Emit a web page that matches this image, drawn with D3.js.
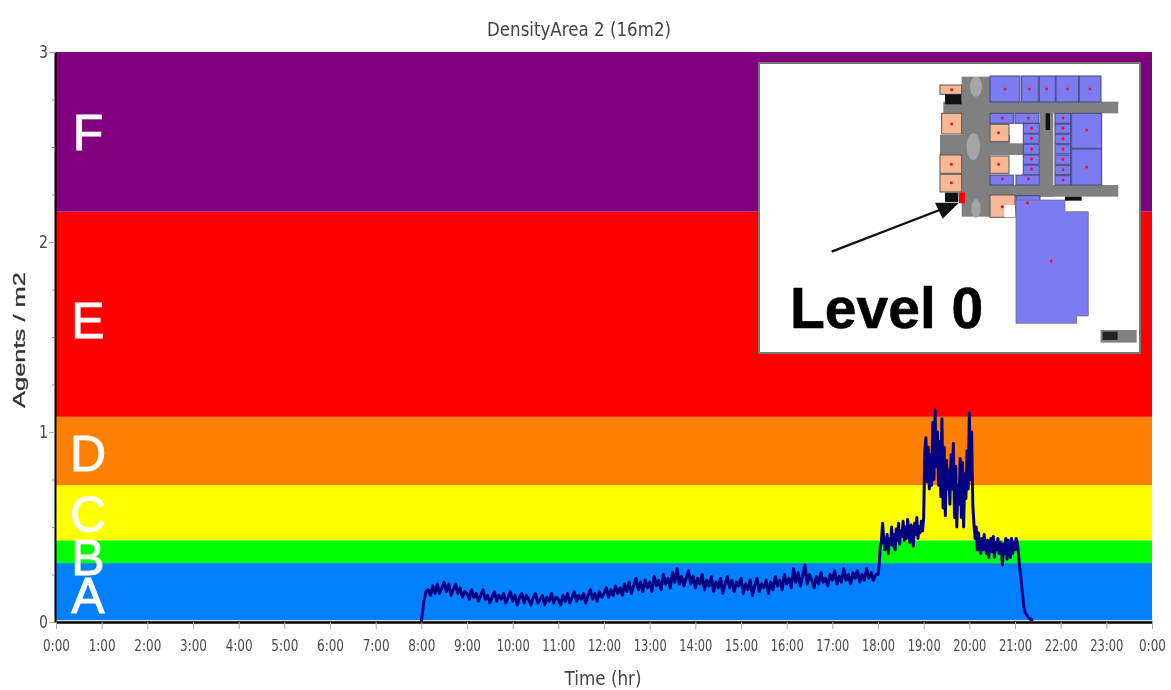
<!DOCTYPE html>
<html><head><meta charset="utf-8">
<script src="https://cdn.jsdelivr.net/npm/d3@7"></script>
<style>
html,body{margin:0;padding:0;background:#fff}
svg{display:block;filter:blur(.55px)}
text{font-family:"DejaVu Sans",sans-serif}
</style></head><body>
<svg id="c" width="1171" height="690"></svg>
<script>
const title = "DensityArea 2 (16m2)";
const xTitle = "Time (hr)";
const yTitle = "Agents / m2";
const hourLabels = ["0:00","1:00","2:00","3:00","4:00","5:00","6:00","7:00","8:00","9:00","10:00","11:00","12:00","13:00","14:00","15:00","16:00","17:00","18:00","19:00","20:00","21:00","22:00","23:00","0:00"];
const bandNames = ["A","B","C","D","E","F"];
const bandLimits = [0,0.31,0.43,0.72,1.08,2.16,3];
const bandColors = ["#0080ff","#00ff00","#ffff00","#ff8000","#ff0000","#800080"];
const yMajor = [0,1,2,3];
const yMinor = [0.25,0.5,0.75,1.25,1.5,1.75,2.25,2.5,2.75];
const dayStart = 8, dayStep = 0.05;
const densityDay = [
0,.10,.16,.17,.14,.19,.15,.20,.15,.18,.21,.16,.20,.14,.17,.20,.15,.18,.13,.16,
.15,.12,.17,.13,.15,.11,.14,.17,.12,.14,.10,.13,.16,.11,.14,.12,.15,.10,.13,.16,
.11,.14,.09,.13,.15,.10,.14,.12,.09,.13,.15,.10,.12,.14,.09,.13,.11,.15,.10,.13,
.12,.09,.14,.11,.15,.10,.13,.16,.11,.14,.12,.15,.10,.14,.17,.12,.15,.11,.16,.13,
.15,.18,.13,.17,.14,.19,.15,.18,.14,.20,.16,.21,.15,.19,.23,.17,.21,.16,.22,.18,
.21,.16,.24,.19,.22,.17,.25,.20,.23,.18,.26,.21,.28,.20,.24,.19,.23,.27,.20,.24,
.18,.23,.20,.25,.17,.22,.19,.24,.16,.21,.18,.23,.15,.20,.24,.18,.22,.16,.21,.19,
.23,.15,.20,.17,.22,.14,.19,.23,.16,.20,.18,.22,.15,.21,.17,.24,.19,.22,.17,.25,
.20,.23,.18,.28,.21,.26,.19,.24,.30,.20,.25,.22,.18,.24,.20,.26,.21,.23,.19,.25,
.22,.27,.20,.24,.21,.28,.22,.25,.20,.26,.23,.27,.21,.25,.22,.28,.23,.26,.22,.25
];
const eveningStart = 18, eveningStep = 0.025;
const densityEvening = [
.25,.30,.40,.42,.52,.44,.38,.42,.46,.36,.44,.41,.50,.40,.46,.38,.49,.43,.52,.41,.48,.45,.53,.43,.50,.44,.54,.46,.42,.51,.47,.40,.52,.46,.55,.44,.50,.47,.53,.48,
.55,.90,.97,.74,.92,.70,.88,.72,1.05,.75,1.115,.82,1.00,.72,.95,.66,1.07,.60,.92,.56,.85,.70,.80,.62,.88,.70,.94,.55,.82,.50,.72,.62,.86,.55,.84,.50,.78,.65,.90,.70,1.10,.75,1.0,.62,
.52,.44,.50,.38,.47,.40,.36,.44,.38,.46,.40,.36,.43,.34,.41,.44,.37,.45,.34,.42,.38,.44,.36,.42,.40,.30,.41,.36,.44,.33,.43,.38,.34,.44,.36,.42,.38,.44,
.42,.36,.29,.24,.18,.12,.07,.05,.04,.03,.02,.02,.01,.01,.01
];
const M = {l:56, r:1152, t:52, b:622};
const svg = d3.select("#c");
const x = d3.scaleLinear().domain([0,24]).range([M.l,M.r]);
const y = d3.scaleLinear().domain([0,3]).range([M.b,M.t]);

// bands
svg.append("g").selectAll("rect").data(bandColors).join("rect")
  .attr("x",x(0)).attr("width",x(24)-x(0))
  .attr("y",(d,i)=>y(bandLimits[i+1]))
  .attr("height",(d,i)=>y(bandLimits[i])-y(bandLimits[i+1]))
  .attr("fill",d=>d);
svg.append("rect").attr("x",x(0)).attr("width",x(24)-x(0)).attr("y",y(0)-2).attr("height",2).attr("fill","#ddd");

// axes
const gx = svg.append("g").attr("transform",`translate(0,${y(0)})`)
  .call(d3.axisBottom(x).tickValues(d3.range(25)).tickFormat(i=>hourLabels[i]).tickSize(7).tickSizeOuter(0).tickPadding(11));
gx.select(".domain").attr("stroke","#000").attr("stroke-width",2.5);
gx.selectAll(".tick line").attr("stroke","#aaa");
gx.selectAll(".tick text").attr("fill","#4a4a4a").style("font-size","15.5px")
  .attr("textLength",(d,i)=>hourLabels[i].length>4?33:27).attr("lengthAdjust","spacingAndGlyphs");
const gy = svg.append("g").attr("transform",`translate(${x(0)-1},0)`)
  .call(d3.axisLeft(y).tickValues(yMajor).tickFormat(d3.format("d")).tickSize(6).tickSizeOuter(0).tickPadding(1));
gy.select(".domain").attr("stroke","#000").attr("stroke-width",2);
gy.selectAll(".tick line").attr("stroke","#aaa");
gy.selectAll(".tick text").attr("fill","#4a4a4a").style("font-size","17px")
  .attr("textLength",9).attr("lengthAdjust","spacingAndGlyphs");
svg.append("g").attr("transform",`translate(${x(0)-1},0)`)
  .call(d3.axisLeft(y).tickValues(yMinor).tickFormat("").tickSize(3))
  .call(g=>g.select(".domain").remove())
  .selectAll(".tick line").attr("stroke","#888");

// titles
svg.append("text").attr("x",579).attr("y",36).attr("text-anchor","middle").attr("fill","#444")
  .style("font-size","19px").attr("textLength",184).attr("lengthAdjust","spacingAndGlyphs").text(title);
svg.append("text").attr("x",603).attr("y",685).attr("text-anchor","middle").attr("fill","#444")
  .style("font-size","19px").attr("textLength",77).attr("lengthAdjust","spacingAndGlyphs").text(xTitle);
svg.append("text").attr("transform","translate(25,340) rotate(-90)").attr("text-anchor","middle").attr("fill","#333")
  .style("font-size","17px").style("font-family","'Liberation Sans'").attr("stroke","#333").attr("stroke-width",.3)
  .attr("textLength",136).attr("lengthAdjust","spacingAndGlyphs").text(yTitle);

// band letters
const letterX = [88,88,88,88,88,88];
const letterBase = [613,575,532,471,338,150];
svg.append("g").selectAll("text").data(bandNames).join("text")
  .attr("x",(d,i)=>letterX[i]).attr("y",(d,i)=>letterBase[i]).attr("text-anchor","middle")
  .attr("fill","#fff").attr("stroke","#fff").attr("stroke-width",1)
  .style("font-family","'Liberation Sans'").style("font-size","50px").text(d=>d);

// density line
const points = densityDay.map((v,i)=>[dayStart+i*dayStep,v])
  .concat(densityEvening.map((v,i)=>[eveningStart+i*eveningStep,v]));
const line = d3.line().x(d=>x(d[0])).y(d=>y(d[1]));
svg.append("path").datum(points).attr("d",line).attr("fill","none").attr("stroke","#000080").attr("stroke-width",3).attr("stroke-linejoin","round");

// inset
svg.append("rect").attr("x",759).attr("y",63).attr("width",381).attr("height",290).attr("fill","#fff").attr("stroke","#777").attr("stroke-width",2);
const plan = svg.append("g").attr("transform","translate(760,60) scale(0.3333)");
const grayRects = [[605,50,85,420],[550,125,525,35],[610,375,465,35],[540,225,210,60],[840,125,40,285],[690,250,100,35]];
const blueRects = [[690,48,90,78],[785,48,50,78],[838,48,48,78],[888,48,68,78],[958,48,65,78],
 [690,160,70,30],[765,160,72,30],[790,190,48,30],[790,222,48,28],[790,253,48,30],[790,285,48,28],[790,315,48,30],[690,345,70,30],[768,345,70,30],
 [885,160,47,30],[885,192,47,28],[885,223,47,28],[885,254,47,28],[885,285,47,28],[885,316,47,28],[885,347,47,28],
 [935,160,90,105],[935,267,90,108],[768,407,72,48]];
const salmonRects = [[540,75,65,28],[545,160,60,62],[540,285,65,55],[540,343,65,53],[690,193,57,52],[690,288,57,52],[690,405,75,67]];
const whiteRects = [[750,193,35,52],[750,288,35,55],[733,435,32,37]];
const darkRects = [[555,103,50,30],[555,398,40,28],[915,410,50,12],[857,160,13,50]];
const rects = (data,fill,stroke)=>plan.append("g").selectAll("rect").data(data).join("rect")
  .attr("x",d=>d[0]).attr("y",d=>d[1]).attr("width",d=>d[2]).attr("height",d=>d[3]).attr("fill",fill).attr("stroke",stroke||"none").attr("stroke-width",stroke?3:0);
rects(grayRects,"#808080");
rects(blueRects,"#7c7cf2","#44447a");
plan.append("polygon").attr("points","768,420 915,420 915,455 985,455 985,768 950,768 950,790 768,790").attr("fill","#7c7cf2").attr("stroke","#666").attr("stroke-width",2);
rects(salmonRects,"#f8b896","#555");
rects(whiteRects,"#fff");
rects(darkRects,"#111");
rects([[597,397,18,33]],"#ff0000");
rects([[1022,810,108,38]],"#808080");
rects([[1028,815,45,25]],"#222");
const blobs = [[648,80,18,30],[640,260,20,40],[648,445,14,28]];
plan.append("g").selectAll("ellipse").data(blobs).join("ellipse").attr("cx",d=>d[0]).attr("cy",d=>d[1]).attr("rx",d=>d[2]).attr("ry",d=>d[3]).attr("fill","#a5a5a5");
const dots = [[575,89],[735,87],[808,87],[860,87],[922,87],[990,87],[575,192],[727,174],[805,174],[815,205],[815,235],[815,267],[815,297],[815,327],[716,218],[716,313],[574,313],[574,368],[727,357],[805,357],[909,174],[909,205],[909,236],[909,267],[909,298],[909,329],[909,360],[980,210],[980,321],[803,429],[874,603],[727,440]];
plan.append("g").selectAll("circle").data(dots).join("circle").attr("cx",d=>d[0]).attr("cy",d=>d[1]).attr("r",4.5).attr("fill","#f01020");
plan.append("line").attr("x1",215).attr("y1",575).attr("x2",570).attr("y2",438).attr("stroke","#111").attr("stroke-width",7);
plan.append("polygon").attr("points","597,428 525,428 548,476").attr("fill","#111");
svg.append("text").attr("x",790).attr("y",328).attr("fill","#000").attr("stroke","#000").attr("stroke-width",.6).style("font-family","'Liberation Sans'").style("font-weight","bold").style("font-size","57px").text("Level 0");
</script>
</body></html>
